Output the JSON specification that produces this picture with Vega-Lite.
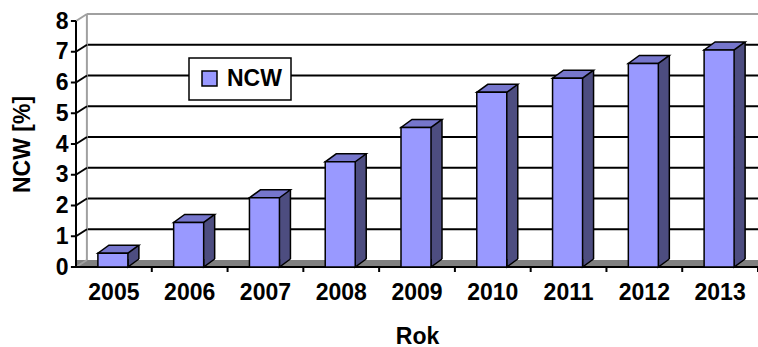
{
  "$schema": "https://vega.github.io/schema/vega-lite/v6.json",
  "width": 682,
  "height": 246,
  "autosize": {"type": "none"},
  "padding": {"left": 76, "top": 21, "right": 0, "bottom": 80},
  "background": "white",
  "config": {
    "view": {"stroke": null},
    "font": "Liberation Sans",
    "legend": {"strokeWidth": 1.5}
  },
  "resolve": {"axis": {"x": "independent", "y": "independent"}},
  "datasets": {
    "bars": [
      {"year": "2005", "ncw": 0.45},
      {"year": "2006", "ncw": 1.45},
      {"year": "2007", "ncw": 2.25},
      {"year": "2008", "ncw": 3.42},
      {"year": "2009", "ncw": 4.54},
      {"year": "2010", "ncw": 5.68},
      {"year": "2011", "ncw": 6.14},
      {"year": "2012", "ncw": 6.62},
      {"year": "2013", "ncw": 7.06}
    ],
    "grid": [{"v": 0}, {"v": 1}, {"v": 2}, {"v": 3}, {"v": 4}, {"v": 5}, {"v": 6}, {"v": 7}, {"v": 8}]
  },
  "layer": [
    {
      "data": {"values": [{"k": "floor"}]},
      "mark": {"type": "rule", "strokeWidth": 7, "yOffset": -3.5, "color": "#808080"},
      "encoding": {
        "y": {"datum": 0, "type": "quantitative", "scale": {"domain": [0, 8], "nice": false}, "axis": null}
      }
    },
    {
      "data": {"name": "grid"},
      "transform": [{"filter": "datum.v >= 1"}],
      "mark": {"type": "rule", "strokeWidth": 2, "xOffset": -27, "x2Offset": 38, "yOffset": -7},
      "encoding": {
        "x": {"datum": "2005", "type": "nominal", "axis": null},
        "x2": {"datum": "2013"},
        "y": {"field": "v", "type": "quantitative", "axis": null},
        "stroke": {"condition": {"test": "datum.v == 8", "value": "#A0A0A0"}, "value": "black"}
      }
    },
    {
      "data": {"values": [{"k": "wall"}]},
      "mark": {"type": "rule", "strokeWidth": 2, "xOffset": -27, "yOffset": -7, "y2Offset": -7, "color": "#A0A0A0"},
      "encoding": {
        "x": {"datum": "2005", "type": "nominal", "axis": null},
        "y": {"datum": 0, "type": "quantitative", "axis": null},
        "y2": {"datum": 8}
      }
    },
    {
      "data": {"name": "grid"},
      "mark": {"type": "point", "shape": "M -1 0.6364 L 1 -0.6364", "size": 121, "filled": false, "strokeWidth": 2, "opacity": 1, "xOffset": -32.4, "yOffset": -3.5},
      "encoding": {
        "x": {"datum": "2005", "type": "nominal", "axis": null},
        "y": {"field": "v", "type": "quantitative", "axis": null},
        "stroke": {"condition": {"test": "datum.v == 0 || datum.v == 8", "value": "#A0A0A0"}, "value": "black"}
      }
    },
    {
      "data": {"values": [{"k": "xaxis"}]},
      "mark": {"type": "rule", "strokeWidth": 2, "color": "black"},
      "encoding": {
        "y": {"datum": 0, "type": "quantitative", "axis": null}
      }
    },
    {
      "data": {"values": [{"k": "yaxis"}]},
      "mark": {"type": "rule", "strokeWidth": 2, "color": "black", "xOffset": -37.9},
      "encoding": {
        "x": {"datum": "2005", "type": "nominal", "axis": null},
        "y": {"datum": 0, "type": "quantitative", "axis": null},
        "y2": {"datum": 8}
      }
    },
    {
      "data": {"name": "grid"},
      "mark": {"type": "rule", "strokeWidth": 2, "color": "black", "xOffset": -43, "x2Offset": -37.9},
      "encoding": {
        "x": {"datum": "2005", "type": "nominal", "axis": null},
        "x2": {"datum": "2005"},
        "y": {"field": "v", "type": "quantitative", "axis": null}
      }
    },
    {
      "data": {"name": "bars"},
      "mark": {"type": "rule", "strokeWidth": 2, "color": "black", "xOffset": 37.9, "y2Offset": 5},
      "encoding": {
        "x": {"field": "year", "type": "nominal", "axis": null},
        "y": {"datum": 0, "type": "quantitative", "axis": null},
        "y2": {"datum": 0}
      }
    },
    {
      "data": {"name": "bars"},
      "mark": {"type": "bar", "width": 11, "xOffset": 19.5, "yOffset": -8, "y2Offset": -8, "fill": "#4D4D80", "strokeWidth": 0},
      "encoding": {
        "x": {"field": "year", "type": "nominal", "axis": null},
        "y": {"field": "ncw", "type": "quantitative", "axis": null},
        "y2": {"datum": 0}
      }
    },
    {
      "data": {"name": "bars"},
      "mark": {"type": "point", "shape": "M 0.5385 -0.3077 L 0.5385 0 L 0.9615 -0.3077", "size": 2704, "filled": true, "fill": "#4D4D80", "stroke": "black", "strokeWidth": 1.5, "opacity": 1},
      "encoding": {
        "x": {"field": "year", "type": "nominal", "axis": null},
        "y": {"datum": 0, "type": "quantitative", "axis": null}
      }
    },
    {
      "data": {"name": "bars"},
      "mark": {"type": "rule", "strokeWidth": 1.5, "color": "black", "xOffset": 25, "yOffset": -8, "y2Offset": -8},
      "encoding": {
        "x": {"field": "year", "type": "nominal", "axis": null},
        "y": {"field": "ncw", "type": "quantitative", "axis": null},
        "y2": {"datum": 0}
      }
    },
    {
      "data": {"name": "bars"},
      "mark": {"type": "point", "shape": "M -0.6154 0 L 0.5385 0 L 0.9615 -0.3077 L -0.1923 -0.3077 Z", "size": 2704, "filled": true, "fill": "#7676CC", "stroke": "black", "strokeWidth": 1.5, "opacity": 1},
      "encoding": {
        "x": {"field": "year", "type": "nominal", "axis": null},
        "y": {"field": "ncw", "type": "quantitative", "axis": null}
      }
    },
    {
      "data": {"name": "bars"},
      "mark": {"type": "bar", "width": 30, "xOffset": -1, "stroke": "black", "strokeWidth": 1.5, "opacity": 1},
      "encoding": {
        "x": {
          "field": "year",
          "type": "nominal",
          "scale": {"domain": ["2005", "2006", "2007", "2008", "2009", "2010", "2011", "2012", "2013"], "paddingInner": 0, "paddingOuter": 0},
          "axis": {
            "title": "Rok",
            "titleFontSize": 23,
            "titleFontWeight": "bold",
            "titleColor": "black",
            "titleX": 341,
            "titleY": 76,
            "titleAlign": "center",
            "titleBaseline": "alphabetic",
            "labelAngle": 0,
            "labelFontSize": 23,
            "labelFontWeight": "bold",
            "labelColor": "black",
            "labelPadding": 14,
            "labelOverlap": false,
            "domain": false,
            "ticks": false,
            "grid": false,
            "zindex": 1
          }
        },
        "y": {
          "field": "ncw",
          "type": "quantitative",
          "scale": {"domain": [0, 8], "nice": false},
          "axis": {
            "title": "NCW [%]",
            "titleFontSize": 23,
            "titleFontWeight": "bold",
            "titleColor": "black",
            "titleX": -54,
            "titleY": 123,
            "titleAngle": 270,
            "titleAlign": "center",
            "titleBaseline": "middle",
            "values": [0, 1, 2, 3, 4, 5, 6, 7, 8],
            "grid": false,
            "labelFontSize": 23,
            "labelFontWeight": "bold",
            "labelColor": "black",
            "labelPadding": 8,
            "labelOverlap": false,
            "domain": false,
            "ticks": false,
            "zindex": 1
          }
        },
        "y2": {"datum": 0},
        "color": {
          "datum": "NCW",
          "scale": {"range": ["#9999FF"]},
          "legend": {
            "orient": "none",
            "legendX": 113,
            "legendY": 37,
            "title": null,
            "padding": 9,
            "strokeColor": "black",
            "fillColor": "white",
            "symbolType": "square",
            "symbolSize": 225,
            "symbolStrokeColor": "black",
            "symbolStrokeWidth": 1.5,
            "symbolFillColor": "#9999FF",
            "symbolOpacity": 1,
            "labelFontSize": 23,
            "labelFontWeight": "bold",
            "labelColor": "black",
            "labelOffset": 6
          }
        }
      }
    }
  ]
}
